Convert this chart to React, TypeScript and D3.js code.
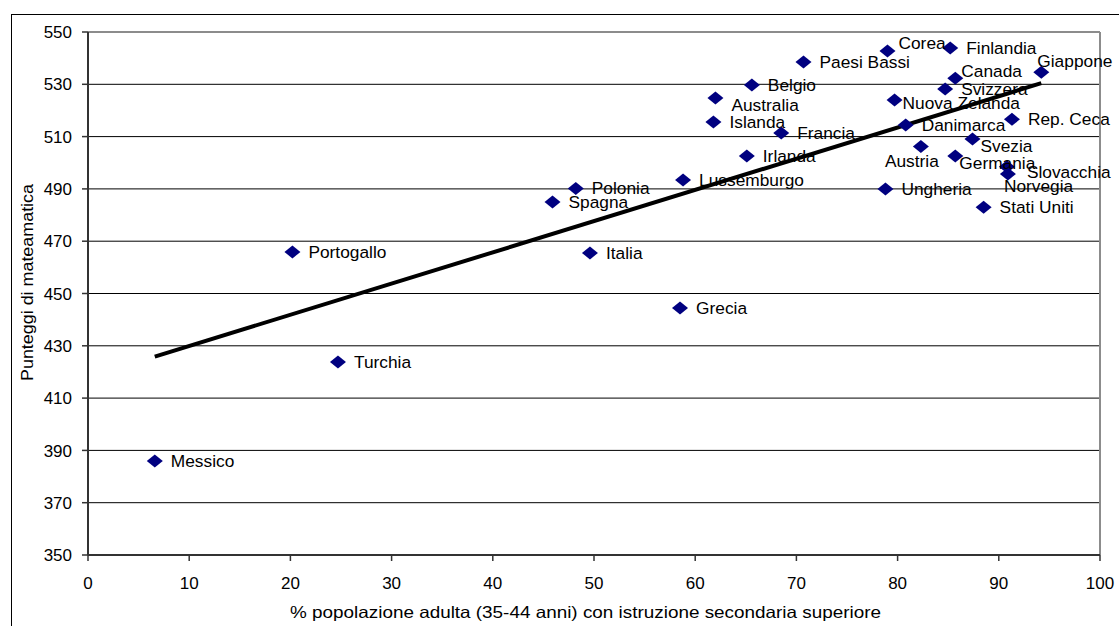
import React from "react";
import * as d3 from "d3";

const countries = [
  "Messico", "Turchia", "Portogallo", "Spagna", "Polonia", "Italia", "Grecia",
  "Lussemburgo", "Irlanda", "Islanda", "Australia", "Belgio", "Francia",
  "Paesi Bassi", "Corea", "Finlandia", "Giappone", "Canada", "Svizzera",
  "Nuova Zelanda", "Danimarca", "Rep. Ceca", "Svezia", "Austria", "Germania",
  "Slovacchia", "Norvegia", "Ungheria", "Stati Uniti",
];
const education = [
  6.6, 24.7, 20.2, 45.9, 48.2, 49.6, 58.5,
  58.8, 65.1, 61.8, 62.0, 65.6, 68.5,
  70.7, 79.0, 85.2, 94.2, 85.7, 84.7,
  79.7, 80.8, 91.3, 87.4, 82.3, 85.7,
  90.8, 90.9, 78.8, 88.5,
];
const mathScore = [
  385.9, 423.8, 465.9, 485.0, 490.2, 465.5, 444.5,
  493.4, 502.6, 515.6, 524.8, 529.7, 511.4,
  538.5, 542.7, 543.9, 534.6, 532.3, 528.2,
  524.0, 514.4, 516.6, 509.1, 506.2, 502.6,
  498.5, 495.7, 490.0, 483.0,
];
const xTicks = [0, 10, 20, 30, 40, 50, 60, 70, 80, 90, 100];
const yTicks = [350, 370, 390, 410, 430, 450, 470, 490, 510, 530, 550];
const xTitle = "% popolazione adulta (35-44 anni) con istruzione secondaria superiore";
const yTitle = "Punteggi di mateamatica";

// label placement (layout only): offset of label start from point
const labelOffsets: Record<string, [number, number]> = {
  Corea: [11, -8],
  Giappone: [-4, -11],
  Canada: [6, -7],
  "Nuova Zelanda": [8, 3],
  Australia: [16, 7],
  Svezia: [8, 7],
  Austria: [-36, 15],
  Germania: [4, 7],
  Slovacchia: [20, 5],
  Norvegia: [-4, 12],
};

const W = 1119;
const H = 626;
const M = { left: 88, right: 1100, top: 32, bottom: 555 };
const FONT = "'Liberation Sans', Arial, sans-serif";

export default function App() {
  const x = d3.scaleLinear().domain([0, 100]).range([M.left, M.right]);
  const y = d3.scaleLinear().domain([350, 550]).range([M.bottom, M.top]);

  const n = education.length;
  const mx = d3.mean(education)!;
  const my = d3.mean(mathScore)!;
  let sxy = 0, sxx = 0;
  for (let i = 0; i < n; i++) {
    sxy += (education[i] - mx) * (mathScore[i] - my);
    sxx += (education[i] - mx) ** 2;
  }
  const slope = sxy / sxx;
  const icpt = my - slope * mx;
  const [x0, x1] = d3.extent(education) as [number, number];
  const trend = d3.line<number>().x((d) => x(d)).y((d) => y(icpt + slope * d))([x0, x1]);

  const diamond = (cx: number, cy: number) =>
    `M${cx},${cy - 6.5}L${cx + 8},${cy}L${cx},${cy + 6.5}L${cx - 8},${cy}Z`;

  return (
    <svg width={W} height={H} style={{ position: "absolute", left: 0, top: 0, background: "#fff" }} fontFamily={FONT}>
      <rect x={0} y={0} width={W} height={H} fill="#fff" />
      <rect x={11.5} y={14.5} width={W + 20} height={H + 20} fill="none" stroke="#000" strokeWidth={1} />
      {yTicks.slice(1, -1).map((t) => (
        <line key={t} x1={M.left} x2={M.right} y1={y(t)} y2={y(t)} stroke="#000" strokeWidth={1} />
      ))}
      <line x1={M.left} x2={M.right} y1={M.top} y2={M.top} stroke="#8c8c8c" strokeWidth={2} />
      <line x1={M.right} x2={M.right} y1={M.top} y2={M.bottom} stroke="#8c8c8c" strokeWidth={2} />
      <line x1={M.left} x2={M.left} y1={M.top} y2={M.bottom} stroke="#333" strokeWidth={2} />
      <line x1={M.left} x2={M.right} y1={M.bottom} y2={M.bottom} stroke="#333" strokeWidth={2} />
      {yTicks.map((t) => (
        <g key={t}>
          <line x1={M.left - 6} x2={M.left} y1={y(t)} y2={y(t)} stroke="#333" strokeWidth={1.5} />
          <text x={72} y={y(t)} dy="0.36em" textAnchor="end" fontSize={17}>{t}</text>
        </g>
      ))}
      {xTicks.map((t) => (
        <g key={t}>
          <line x1={x(t)} x2={x(t)} y1={M.bottom} y2={M.bottom + 6} stroke="#333" strokeWidth={1.5} />
          <text x={x(t)} y={589} textAnchor="middle" fontSize={17}>{t}</text>
        </g>
      ))}
      <text x={290} y={618} fontSize={16.5} textLength={591} lengthAdjust="spacingAndGlyphs">{xTitle}</text>
      <text transform={`translate(33,381) rotate(-90)`} fontSize={16.5} textLength={197} lengthAdjust="spacingAndGlyphs">{yTitle}</text>
      <path d={trend!} stroke="#000" strokeWidth={4} fill="none" />
      {countries.map((c, i) => (
        <path key={c} d={diamond(x(education[i]), y(mathScore[i]))} fill="#000080" />
      ))}
      {countries.map((c, i) => {
        const [dx, dy] = labelOffsets[c] ?? [16, 0];
        return (
          <text
            key={c}
            transform={`translate(${x(education[i]) + dx},${y(mathScore[i]) + dy}) scale(1.05,1)`}
            dy="0.36em"
            fontSize={16.5}
          >
            {c}
          </text>
        );
      })}
    </svg>
  );
}
